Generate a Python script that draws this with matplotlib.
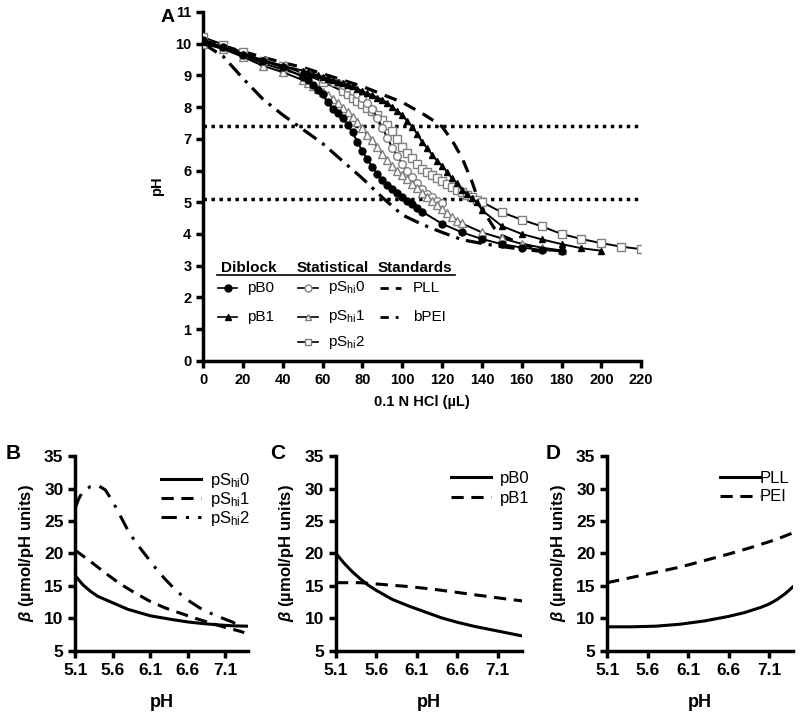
import numpy as np
import matplotlib
matplotlib.use('Agg')
import matplotlib.pyplot as plt

plt.rcParams['font.family'] = ['Liberation Sans', 'DejaVu Sans']
plt.rcParams['mathtext.fontset'] = 'custom'
plt.rcParams['mathtext.rm'] = 'Liberation Sans'
plt.rcParams['mathtext.it'] = 'Liberation Sans:italic:bold'

# ---- panel A : titration curves (pH vs 0.1 N HCl, uL) ----
pB0_x = [0, 10, 20, 30, 40] + list(np.arange(50, 110.1, 2.5)) + [120, 130, 140, 150, 160, 170, 180]
pB0_y = [10.1, 9.9, 9.65, 9.45, 9.25,
         8.95, 8.85, 8.7, 8.55, 8.4, 8.15, 7.95, 7.8, 7.65, 7.45, 7.2, 6.9, 6.6,
         6.35, 6.1, 5.9, 5.7, 5.55, 5.42, 5.28, 5.15, 5.05, 4.95, 4.83, 4.7,
         4.32, 4.05, 3.84, 3.68, 3.57, 3.5, 3.45]

pB1_x = [0, 10, 20, 30, 40] + list(np.arange(50, 140.1, 2.5)) + [150, 160, 170, 180, 190, 200]
pB1_y = [10.05, 9.88, 9.68, 9.48, 9.3,
         9.15, 9.1, 9.05, 9.0, 8.95, 8.9, 8.85, 8.8, 8.75, 8.7, 8.65, 8.58, 8.5,
         8.43, 8.37, 8.3, 8.23, 8.12, 8.0, 7.88, 7.75, 7.55, 7.38, 7.15, 6.9,
         6.7, 6.5, 6.3, 6.15, 5.95, 5.75, 5.6, 5.4, 5.25, 5.12, 5.0, 4.75,
         4.25, 4.0, 3.83, 3.68, 3.55, 3.47]

pSh0_x = [0, 10, 20, 30, 40, 50, 60] + list(np.arange(65, 120.1, 2.5))
pSh0_y = [10.05, 9.85, 9.62, 9.38, 9.18, 9.0, 8.88,
          8.8, 8.75, 8.68, 8.6, 8.52, 8.4, 8.27, 8.12, 7.93, 7.65, 7.35, 7.02,
          6.72, 6.45, 6.2, 6.0, 5.8, 5.6, 5.42, 5.27, 5.15, 5.05, 4.97]

pSh1_x = [0, 10, 20, 30, 40] + list(np.arange(50, 130.1, 2.5)) + [140, 150, 160, 170, 180]
pSh1_y = [10.0, 9.83, 9.58, 9.3, 9.1,
          8.85, 8.76, 8.67, 8.57, 8.47, 8.37, 8.26, 8.13, 7.98, 7.83, 7.68, 7.52,
          7.33, 7.13, 6.95, 6.75, 6.52, 6.32, 6.14, 5.99, 5.85, 5.72, 5.58, 5.44,
          5.3, 5.16, 5.03, 4.9, 4.78, 4.65, 4.53, 4.42, 4.33,
          4.05, 3.86, 3.69, 3.57, 3.48]

pSh2_x = [0, 10, 20, 30, 40, 50, 60] + list(np.arange(70, 140.1, 2.5)) + [150, 160, 170, 180, 190, 200, 210, 220]
pSh2_y = [10.2, 9.97, 9.72, 9.45, 9.3, 9.07, 8.8,
          8.5, 8.4, 8.3, 8.2, 8.1, 7.98, 7.87, 7.75, 7.6, 7.45, 7.25, 7.0, 6.75,
          6.55, 6.38, 6.22, 6.06, 5.95, 5.85, 5.76, 5.68, 5.58, 5.48, 5.4, 5.32,
          5.24, 5.16, 5.08, 5.01,
          4.68, 4.45, 4.24, 4.0, 3.84, 3.71, 3.6, 3.52]

PLL_x = [0, 10, 20, 30, 40, 50, 60, 70, 80, 90, 100, 110, 115, 120, 125, 130, 135, 138, 142, 146, 150, 160, 170]
PLL_y = [10.1, 9.92, 9.75, 9.57, 9.4, 9.25, 9.05, 8.85, 8.65, 8.4, 8.15, 7.8, 7.6, 7.38,
         6.95, 6.4, 5.65, 5.1, 4.6, 4.2, 3.95, 3.68, 3.52]

bPEI_x = [0, 10, 20, 30, 40, 50, 60, 70, 80, 90, 100, 110, 120, 130, 140, 150, 160, 170]
bPEI_y = [10.0, 9.6, 8.9, 8.25, 7.75, 7.3, 6.85, 6.3, 5.75, 5.15, 4.6, 4.3, 4.05, 3.82,
          3.7, 3.6, 3.52, 3.45]

ph_lines = [7.4, 5.1]

# ---- panels B-D : buffer capacity vs pH ----
B_x0 = [5.1, 5.2, 5.3, 5.4, 5.6, 5.8, 6.1, 6.4, 6.6, 6.8, 7.0, 7.2, 7.4]
B_pSh0 = [16.6, 15.2, 14.2, 13.4, 12.4, 11.4, 10.4, 9.8, 9.45, 9.2, 9.0, 8.85, 8.8]
B_x1 = [5.1, 5.3, 5.5, 5.7, 5.9, 6.1, 6.3, 6.5, 6.7, 6.9, 7.1, 7.3, 7.35]
B_pSh1 = [20.5, 18.8, 17.0, 15.3, 13.9, 12.6, 11.6, 10.8, 10.0, 9.3, 8.6, 8.0, 7.8]
B_x2 = [5.1, 5.15, 5.2, 5.3, 5.4, 5.5, 5.6, 5.7, 5.8, 5.9, 6.0, 6.1, 6.2, 6.3, 6.45, 6.6, 6.8, 7.0, 7.2, 7.3]
B_pSh2 = [27.0, 28.5, 29.5, 30.3, 30.5, 29.8, 28.0, 25.8, 23.6, 21.8, 20.3, 18.8, 17.3,
          16.0, 14.2, 12.8, 11.3, 10.3, 9.4, 8.6]

C_x0 = [5.1, 5.2, 5.3, 5.4, 5.5, 5.6, 5.8, 6.0, 6.2, 6.4, 6.6, 6.8, 7.0, 7.2, 7.4]
C_pB0 = [20.0, 18.5, 17.2, 16.1, 15.1, 14.3, 12.9, 11.9, 11.0, 10.1, 9.4, 8.8, 8.3, 7.8, 7.3]
C_x1 = [5.1, 5.4, 5.7, 6.0, 6.3, 6.6, 6.9, 7.2, 7.4]
C_pB1 = [15.5, 15.5, 15.2, 14.9, 14.5, 14.0, 13.5, 13.0, 12.7]

D_x0 = [5.1, 5.4, 5.7, 6.0, 6.3, 6.6, 6.8, 7.0, 7.1, 7.2, 7.3, 7.4]
D_PLL = [8.7, 8.7, 8.8, 9.1, 9.6, 10.3, 10.9, 11.7, 12.2, 12.9, 13.8, 14.9]
D_x1 = [5.1, 5.4, 5.7, 6.0, 6.3, 6.6, 6.9, 7.2, 7.4]
D_PEI = [15.5, 16.3, 17.1, 17.9, 18.9, 19.9, 21.0, 22.2, 23.2]

ph_ticks = [5.1, 5.6, 6.1, 6.6, 7.1]

GREY = '#808080'
fig = plt.figure(figsize=(8, 7.16), dpi=100)

def style_axes(ax, lw=2.2):
    for s in ['top', 'right']:
        ax.spines[s].set_visible(False)
    for s in ['left', 'bottom']:
        ax.spines[s].set_linewidth(lw)
    ax.tick_params(direction='out', width=lw, length=5)
    for t in ax.get_xticklabels() + ax.get_yticklabels():
        t.set_fontweight('bold')

# panel A
axA = fig.add_axes([0.254, 0.496, 0.5475, 0.4874])
for y in ph_lines:
    axA.plot([0, 220], [y, y], color='black', lw=2.5, ls=(0, (1, 1.3)), zorder=1)
axA.plot(PLL_x, PLL_y, color='black', lw=2.3, ls=(0, (4, 2.6)), zorder=2)
axA.plot(bPEI_x, bPEI_y, color='black', lw=2.3, ls=(0, (5, 2.2, 1, 2.2)), zorder=2)
open_kw = dict(color='black', lw=1.4, mfc='white', mec=GREY, mew=1.0, zorder=3)
axA.plot(pSh2_x, pSh2_y, marker='s', ms=6, **open_kw)
axA.plot(pSh0_x, pSh0_y, marker='o', ms=5.5, **open_kw)
axA.plot(pSh1_x, pSh1_y, marker='^', ms=5.5, **open_kw)
axA.plot(pB1_x, pB1_y, color='black', lw=1.4, marker='^', ms=5, zorder=4)
axA.plot(pB0_x, pB0_y, color='black', lw=1.4, marker='o', ms=5, zorder=4)
axA.set_xlim(0, 220)
axA.set_ylim(0, 11)
axA.set_xticks(np.arange(0, 221, 20))
axA.set_yticks(np.arange(0, 12, 1))
axA.tick_params(labelsize=10.5)
axA.set_xlabel('0.1 N HCl (µL)', fontsize=10.5, fontweight='bold', labelpad=6)
axA.set_ylabel('pH', fontsize=10.5, fontweight='bold', labelpad=8)
style_axes(axA, lw=2.5)
fig.text(0.21, 0.975, 'A', fontsize=14, fontweight='bold', va='center', ha='center')

# custom legend table in panel A
T = axA.transAxes
hdr_y = 0.266
for x, s in [(0.105, 'Diblock'), (0.295, 'Statistical'), (0.484, 'Standards')]:
    axA.text(x, hdr_y, s, transform=T, ha='center', va='center', fontsize=11, fontweight='bold')
axA.plot([0.032, 0.575], [0.246, 0.246], transform=T, color='black', lw=1.2, clip_on=False)
rows = [0.209, 0.126, 0.054]

def leg_item(x0, x1, y, tx, label, marker, lw=1.2, **mk):
    axA.plot([x0, x1], [y, y], transform=T, clip_on=False, color='black', lw=lw)
    axA.plot([(x0 + x1) / 2], [y], transform=T, clip_on=False, ls='none', marker=marker, **mk)
    axA.text(tx, y, label, transform=T, va='center', ha='left', fontsize=11)

leg_item(0.034, 0.078, rows[0], 0.100, 'pB0', 'o', ms=5, color='black')
leg_item(0.034, 0.078, rows[1], 0.100, 'pB1', '^', ms=5, color='black')
ok = dict(ms=5, mfc='white', mec=GREY, mew=1.0)
leg_item(0.217, 0.263, rows[0], 0.285, r'pS$_{\mathregular{hi}}$0', 'o', **ok)
leg_item(0.217, 0.263, rows[1], 0.285, r'pS$_{\mathregular{hi}}$1', '^', **ok)
leg_item(0.217, 0.263, rows[2], 0.285, r'pS$_{\mathregular{hi}}$2', 's', **ok)
axA.plot([0.404, 0.452], [rows[0]] * 2, transform=T, color='black', lw=2, ls=(0, (3, 2.5)), clip_on=False)
axA.text(0.479, rows[0], 'PLL', transform=T, va='center', fontsize=11)
axA.plot([0.404, 0.452], [rows[1]] * 2, transform=T, color='black', lw=2, ls=(0, (3, 2.5, 1, 2.5, 1, 2.5)), clip_on=False)
axA.text(0.479, rows[1], 'bPEI', transform=T, va='center', fontsize=11)

# bottom panels
ylab = r'$\mathit{\beta}$ (µmol/pH units)'
def bottom_panel(rect, letter, lx):
    ax = fig.add_axes(rect)
    ax.set_xlim(5.1, 7.4)
    ax.set_ylim(5, 35)
    ax.set_xticks(ph_ticks)
    ax.set_xticklabels([f'{v:.1f}' for v in ph_ticks])
    ax.set_yticks(np.arange(5, 36, 5))
    ax.tick_params(labelsize=12.5)
    ax.set_xlabel('pH', fontsize=13, fontweight='bold', labelpad=12)
    ax.set_ylabel(ylab, fontsize=12, fontweight='bold', labelpad=6)
    style_axes(ax, lw=2.5)
    fig.text(lx, 0.367, letter, fontsize=15, fontweight='bold', va='center', ha='center')
    return ax

axB = bottom_panel([0.094, 0.091, 0.216, 0.272], 'B', 0.016)
axB.plot(B_x0, B_pSh0, color='black', lw=2.2, label=r'pS$_{\mathregular{hi}}$0')
axB.plot(B_x1, B_pSh1, color='black', lw=2.2, ls=(0, (4, 2.5)), label=r'pS$_{\mathregular{hi}}$1')
axB.plot(B_x2, B_pSh2, color='black', lw=2.2, ls=(0, (5, 3, 1, 3)), label=r'pS$_{\mathregular{hi}}$2')
axB.legend(loc='upper right', bbox_to_anchor=(1.1, 1.0), frameon=False, fontsize=12,
           handlelength=2.4, labelspacing=0.0, handletextpad=0.5)

axC = bottom_panel([0.42, 0.091, 0.2325, 0.272], 'C', 0.3475)
axC.plot(C_x0, C_pB0, color='black', lw=2.2, label='pB0')
axC.plot(C_x1, C_pB1, color='black', lw=2.2, ls=(0, (4, 2.5)), label='pB1')
axC.legend(loc='upper right', bbox_to_anchor=(1.12, 1.0), frameon=False, fontsize=12,
           handlelength=2.4, labelspacing=0.3, handletextpad=0.5)

axD = bottom_panel([0.759, 0.091, 0.2325, 0.272], 'D', 0.691)
axD.plot(D_x0, D_PLL, color='black', lw=2.2, label='PLL')
axD.plot(D_x1, D_PEI, color='black', lw=2.2, ls=(0, (4, 2.5)), label='PEI')
axD.legend(loc='upper right', bbox_to_anchor=(1.06, 1.0), frameon=False, fontsize=12,
           handlelength=2.4, labelspacing=0.2, handletextpad=0.0)

fig.savefig('out.png', dpi=100)
